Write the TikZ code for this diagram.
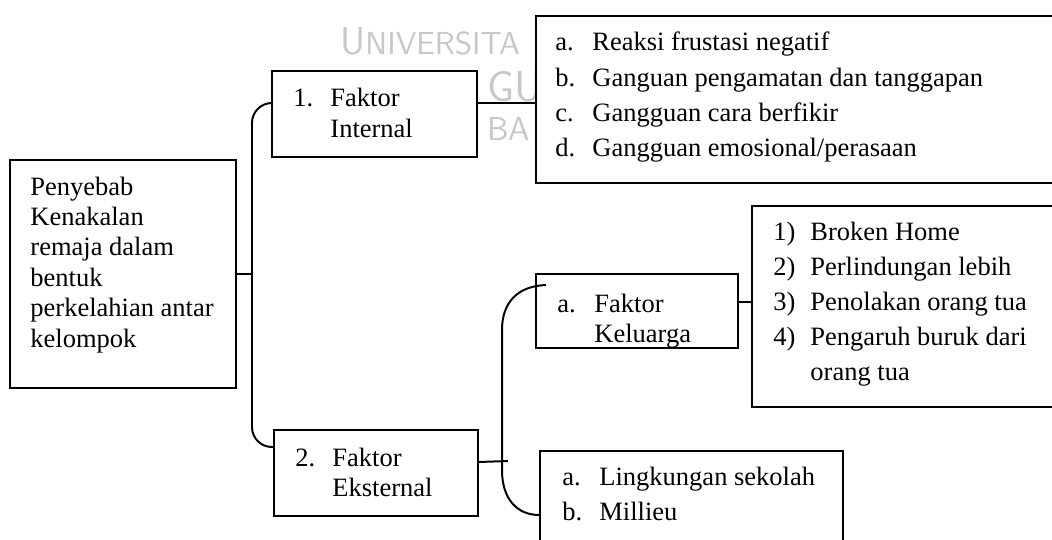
\documentclass[tikz,border=0pt]{standalone}
\usepackage{fontspec}
\setmainfont{Liberation Serif}
\usetikzlibrary{fit,calc}

\tikzset{
  box/.style={draw,fill=white,line width=0.9pt,inner sep=0pt},
  txt/.style={anchor=base west,inner sep=0pt,font=\fontsize{12}{13.8}\selectfont},
  lsttxt/.style={txt,font=\fontsize{12}{15.9}\selectfont},
  wm/.style={anchor=base west,inner sep=0pt,text=black!22},
  conn/.style={line width=0.9pt}
}
\newcommand{\itemtab}[1]{\begin{tabular}[t]{@{}p{16.75pt}@{}l@{}}#1\end{tabular}}

\begin{document}
\begin{tikzpicture}[x=0.4528pt,y=-0.4528pt]
\useasboundingbox (0,0) rectangle (1052,540);
%watermark
\node[wm,font=\sffamily\fontsize{17.6}{17.6}\selectfont] (wm1) at (340,55) {U\fontsize{14.4}{14.4}\selectfont NIVERSITA};
\node[wm,font=\sffamily\fontsize{19.6}{19.6}\selectfont] (wm2) at (487,102) {GU};
\node[wm,font=\sffamily\fontsize{15}{15}\selectfont] (wm3) at (487,140) {BA};
%boxes
\node[box,fit={(10,160) (236,388)}] (main) {};
\node[box,fit={(272,71) (477,157)}] (fin) {};
\node[box,fit={(274,430) (478,516)}] (fek) {};
\node[box,fit={(536,16) (1070,183)}] (lin) {};
\node[box,fit={(536,274) (738,348)}] (kel) {};
\node[box,fit={(752,206) (1070,407)}] (lkel) {};
\node[box,fit={(540,451) (843,560)}] (lek) {};
%texts
\node[txt] (tmain) at (30,195) {\begin{tabular}[t]{@{}l@{}}Penyebab\\Kenakalan\\remaja dalam\\bentuk\\perkelahian antar\\kelompok\end{tabular}};
\node[txt] (tfin) at (293,107) {\itemtab{1. & Faktor\\ & Internal}};
\node[txt] (tfek) at (295,466) {\itemtab{2. & Faktor\\ & Eksternal}};
\node[txt] (tkel) at (557,312) {\itemtab{a. & Faktor\\ & Keluarga}};
\node[lsttxt] (tlin) at (555,51) {\itemtab{a. & Reaksi frustasi negatif\\ b. & Ganguan pengamatan dan tanggapan\\ c. & Gangguan cara berfikir\\ d. & Gangguan emosional/perasaan}};
\node[lsttxt] (tlkel) at (773,240) {\itemtab{1) & Broken Home\\ 2) & Perlindungan lebih\\ 3) & Penolakan orang tua\\ 4) & Pengaruh buruk dari\\ & orang tua}};
\node[lsttxt] (tlek) at (562,485) {\itemtab{a. & Lingkungan sekolah\\ b. & Millieu}};
%lines
\coordinate (y1) at (0,103);
\coordinate (y2) at (0,302);
\coordinate (y3) at (0,462);
\coordinate (y4) at (0,447);
\coordinate (y5) at (0,515);
\coordinate (x3) at (508,461);
\draw[conn] (main.east) -- ++(16,0);
\draw[conn,rounded corners=9pt] (fin.west |- y1) -| (252,300) |- (fek.west |- y4);
\draw[conn] (fin.east |- y1) -- (lin.west |- y1);
\draw[conn] (kel.east |- y2) -- (lkel.west |- y2);
\draw[conn] (fek.east |- y3) -- (x3);
\draw[conn] ($(kel.north west)+(11,12)$) .. controls (518,286) and (502,302) .. (502,330) -- (502,470) .. controls (502,500) and (518,515) .. (lek.west |- y5);
\end{tikzpicture}
\end{document}
